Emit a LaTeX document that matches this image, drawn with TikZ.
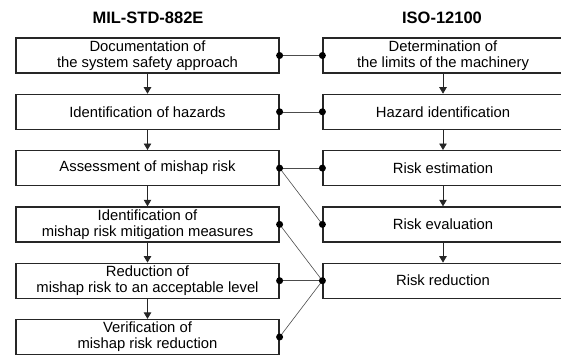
\documentclass[tikz,border=0pt]{standalone}
\usepackage{fontspec}
\setmainfont{Liberation Sans}
\usetikzlibrary{arrows.meta}
\tikzset{
  box/.style={draw=black!85, line width=1.2pt, fill=white, inner sep=0pt, align=center,
    minimum height=35pt, font=\fontsize{14.8}{16}\selectfont},
  lbox/.style={box, minimum width=263pt},
  rbox/.style={box, minimum width=240pt},
  flow/.style={draw=black!85, line width=0.8pt, -{Triangle[width=7.5pt,length=6.5pt]}},
  link/.style={draw=black!70, line width=0.6pt},
  dot/.style={circle, fill=black, inner sep=0pt, minimum size=7pt},
  title/.style={font=\fontsize{16.5}{18}\selectfont\bfseries}
}
\begin{document}
\begin{tikzpicture}[x=1pt,y=-1pt]
\useasboundingbox (0,0) rectangle (561,356);
\node[title] (t1) at (148,18) {MIL-STD-882E};
\node[title] (t2) at (442,18) {ISO-12100};
% left column
\node[lbox] (L1) at (147.5,55.5) {Documentation of\\the system safety approach};
\node[lbox] (L2) at (147.5,111.8) {Identification of hazards};
\node[lbox] (L3) at (147.5,168.1) {Assessment of mishap risk};
\node[lbox] (L4) at (147.5,224.4) {Identification of\\mishap risk mitigation measures};
\node[lbox] (L5) at (147.5,280.7) {Reduction of\\mishap risk to an acceptable level};
\node[lbox] (L6) at (147.5,337) {Verification of\\mishap risk reduction};
% right column
\node[rbox] (R1) at (443,55.5) {Determination of\\the limits of the machinery};
\node[rbox] (R2) at (443,111.8) {Hazard identification};
\node[rbox] (R3) at (443,168.1) {Risk estimation};
\node[rbox] (R4) at (443,224.4) {Risk evaluation};
\node[rbox] (R5) at (443,280.7) {Risk reduction};
% flow arrows
\foreach \a/\b in {L1/L2,L2/L3,L3/L4,L4/L5,L5/L6,R1/R2,R2/R3,R3/R4,R4/R5}
  \draw[flow] (\a.south) -- (\b.north);
% links
\foreach \a/\b in {L1/R1,L2/R2,L3/R3,L3/R4,L4/R5,L5/R5,L6/R5}
  \draw[link] (\a.east) -- (\b.west);
\foreach \n in {L1,L2,L3,L4,L5,L6}
  \node[dot] (d\n) at (\n.east) {};
\foreach \n in {R1,R2,R3,R4,R5}
  \node[dot] (d\n) at (\n.west) {};
\end{tikzpicture}
\end{document}
